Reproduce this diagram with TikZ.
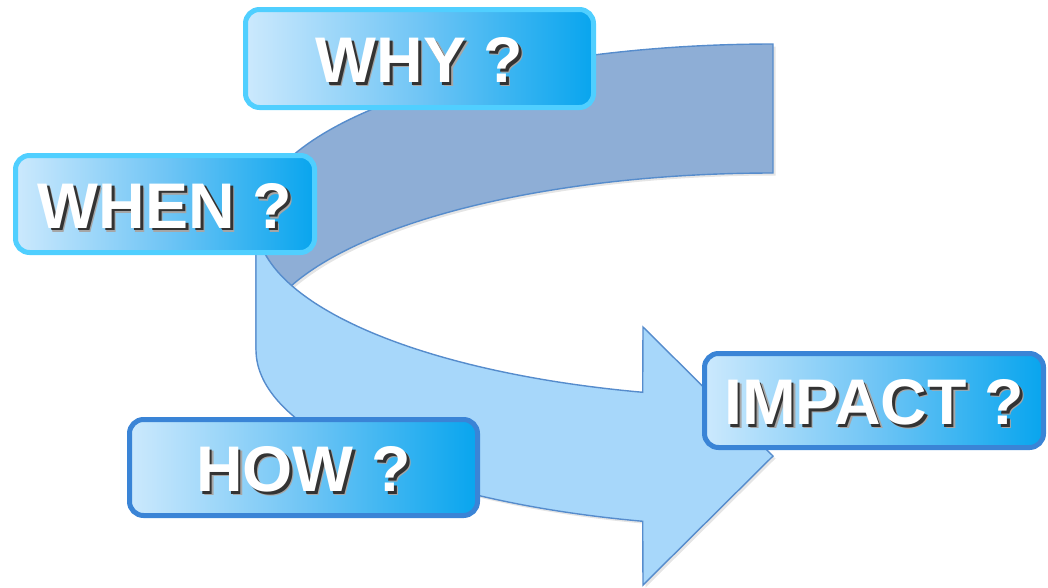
\documentclass[tikz,border=0pt]{standalone}
\usepackage{fontspec}
\setmainfont{Liberation Sans}
\usetikzlibrary{calc}
\definecolor{darkband}{RGB}{142,174,214}
\definecolor{lightband}{RGB}{167,215,250}
\definecolor{bandline}{RGB}{86,140,204}
\definecolor{cyanrim}{RGB}{80,207,255}
\definecolor{bluerim}{RGB}{58,132,214}
\definecolor{gradL}{RGB}{204,233,253}
\definecolor{gradM}{RGB}{112,197,245}
\definecolor{gradR}{RGB}{8,165,238}
\def\darkpath{plot[domain=90:180,samples=90] ({773+517*cos(\x)},{221-177*sin(\x)}) -- (256,350) -- plot[domain=180:90,samples=90] ({773+517*cos(\x)},{350-177*sin(\x)}) -- cycle}
\def\lightpath{(256,221) -- (256,350) -- plot[domain=180:255.4,samples=90] ({773+517*cos(\x)},{350-177*sin(\x)}) -- (643,585) -- (773,456) -- (643,327) -- plot[domain=255.4:180,samples=90] ({773+517*cos(\x)},{221-177*sin(\x)}) -- cycle}
\newcommand\shadowed[1]{\makebox[0pt][l]{\hspace{4pt}\smash{\raisebox{-4pt}{\color{black!35}#1}}}\makebox[0pt][l]{\hspace{2.8pt}\smash{\raisebox{-2.8pt}{\color{black!80}#1}}}#1}
\begin{document}
\begin{tikzpicture}[x=1pt,y=-1pt,
  qbox/.style={rounded corners=14pt, line width=5pt, left color=gradL, right color=gradR, middle color=gradM, inner sep=0pt},
  qtext/.style={font=\fontsize{64.5}{64.5}\selectfont\bfseries, text=white, inner sep=0pt},
  bandedge/.style={draw=bandline, line width=1.4pt, line join=miter}]
\useasboundingbox (0,0) rectangle (1048,587);
% soft shadows of the band
\fill[black, opacity=0.10, shift={(2.5,2.5)}] \darkpath;
\fill[darkband, bandedge] \darkpath;
\fill[black, opacity=0.10, shift={(2.5,2.5)}] \lightpath;
\fill[lightband, bandedge] \lightpath;
% boxes
\node[qbox, draw=cyanrim, minimum width=348pt, minimum height=98pt] (why) at (419.5,58.5) {};
\node[qbox, draw=cyanrim, minimum width=299pt, minimum height=97pt] (when) at (165,204) {};
\node[qbox, draw=bluerim, minimum width=348pt, minimum height=96pt] (how) at (303.5,467.5) {};
\node[qbox, draw=bluerim, minimum width=339pt, minimum height=94pt] (impact) at (874,400.5) {};
% texts
\node[qtext] (whyt) at ($(why)+(0,1.5)$) {\shadowed{WHY ?}};
\node[qtext] (whent) at ($(when)+(0,1.5)$) {\shadowed{WHEN ?}};
\node[qtext] (howt) at ($(how)+(0,1.5)$) {\shadowed{HOW ?}};
\node[qtext] (impactt) at ($(impact)+(0,1.5)$) {\shadowed{IMPACT ?}};
\end{tikzpicture}
\end{document}
